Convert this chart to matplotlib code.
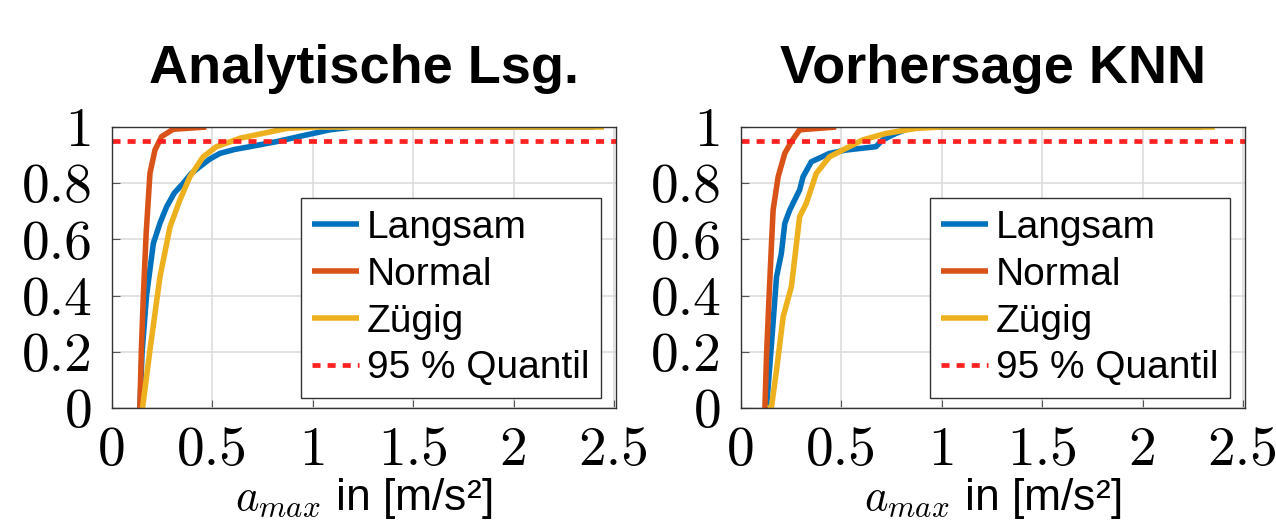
import matplotlib
matplotlib.use('Agg')
import matplotlib.pyplot as plt
import numpy as np

plt.rcParams['mathtext.fontset'] = 'cm'
plt.rcParams['font.family'] = ['Liberation Sans', 'DejaVu Sans']

titles = ['Analytische Lsg.', 'Vorhersage KNN']
labels = ['Langsam', 'Normal', 'Zügig']
colors = ['#0072BD', '#D95319', '#EDB120']
quantil = 0.95
xticks = [0, 0.5, 1, 1.5, 2, 2.5]
xticklabels = ['0', '0.5', '1', '1.5', '2', '2.5']
yticks = [0, 0.2, 0.4, 0.6, 0.8, 1]
yticklabels = ['0', '0.2', '0.4', '0.6', '0.8', '1']

# Analytische Loesung
ana_langsam_x = [0.139, 0.150, 0.172, 0.206, 0.240, 0.272, 0.310, 0.355, 0.395, 0.438, 0.485, 0.537, 0.610, 0.687, 0.820, 0.969, 1.085, 1.20, 2.40]
ana_langsam_y = [0.0, 0.20, 0.40, 0.586, 0.66, 0.716, 0.765, 0.80, 0.835, 0.859, 0.885, 0.906, 0.920, 0.930, 0.948, 0.972, 0.99, 1.0, 1.0]
ana_normal_x = [0.139, 0.146, 0.156, 0.170, 0.189, 0.214, 0.247, 0.305, 0.47]
ana_normal_y = [0.0, 0.20, 0.396, 0.62, 0.835, 0.918, 0.966, 0.992, 1.0]
ana_zuegig_x = [0.152, 0.189, 0.239, 0.289, 0.338, 0.388, 0.454, 0.520, 0.637, 0.770, 0.870, 1.00, 2.45]
ana_zuegig_y = [0.0, 0.206, 0.467, 0.645, 0.74, 0.823, 0.894, 0.93, 0.96, 0.98, 0.995, 1.0, 1.0]

# Vorhersage KNN
knn_langsam_x = [0.127, 0.152, 0.177, 0.201, 0.218, 0.243, 0.292, 0.309, 0.350, 0.440, 0.523, 0.672, 0.705, 0.771, 0.853, 2.30]
knn_langsam_y = [0.0, 0.23, 0.467, 0.55, 0.657, 0.705, 0.776, 0.823, 0.876, 0.906, 0.918, 0.93, 0.954, 0.977, 1.0, 1.0]
knn_normal_x = [0.119, 0.127, 0.140, 0.152, 0.160, 0.185, 0.218, 0.251, 0.292, 0.474]
knn_normal_y = [0.0, 0.183, 0.40, 0.586, 0.705, 0.823, 0.906, 0.948, 0.99, 1.0]
knn_zuegig_x = [0.135, 0.152, 0.177, 0.210, 0.251, 0.292, 0.325, 0.375, 0.441, 0.506, 0.606, 0.721, 0.870, 1.00, 2.36]
knn_zuegig_y = [0.0, 0.005, 0.135, 0.325, 0.432, 0.681, 0.728, 0.835, 0.894, 0.918, 0.954, 0.977, 0.995, 1.0, 1.0]

panels = [
    [(ana_langsam_x, ana_langsam_y), (ana_normal_x, ana_normal_y), (ana_zuegig_x, ana_zuegig_y)],
    [(knn_langsam_x, knn_langsam_y), (knn_normal_x, knn_normal_y), (knn_zuegig_x, knn_zuegig_y)],
]

fig = plt.figure(figsize=(12.76, 5.21), dpi=100)
lefts = [112/1276, 741/1276]

for i, curves in enumerate(panels):
    ax = fig.add_axes([lefts[i], 113/521, 504/1276, 281/521])
    for (x, y), lab, c in zip(curves, labels, colors):
        ax.plot(x, y, color=c, lw=4, label=lab, solid_capstyle='butt')
    ax.axhline(quantil, color='#FF2020', lw=3.4, ls=(0, (1.7, 1.5)), label='95 % Quantil')
    ax.set_xlim(0, 2.51)
    ax.set_ylim(0, 1)
    ax.set_xticks(xticks)
    ax.set_xticklabels(xticklabels, fontfamily='cmr10', fontsize=40)
    ax.set_yticks(yticks)
    ax.set_yticklabels(yticklabels, fontfamily='cmr10', fontsize=40)
    ax.tick_params(direction='in', length=6, width=0.8, color='#555555')
    ax.tick_params(axis='x', pad=13)
    ax.tick_params(axis='y', pad=14)
    ax.grid(True, color='#dddddd', lw=1.2)
    ax.set_axisbelow(True)
    for s in ax.spines.values():
        s.set_color('#333333')
        s.set_linewidth(1.0)
    ax.set_title(titles[i], fontsize=39, fontweight='bold', pad=32)
    ax.set_xlabel(r'$a_{max}$ in [m/s²]', fontsize=32, labelpad=0)
    leg = ax.legend(loc='lower right', bbox_to_anchor=(0.97, 0.035), fontsize=28,
                    handlelength=1.2, handletextpad=0.2, labelspacing=0.28,
                    borderpad=0.3, borderaxespad=0, fancybox=False, framealpha=1,
                    edgecolor='#333333')
    leg.get_frame().set_linewidth(1.0)

fig.savefig('out.png', dpi=100)
